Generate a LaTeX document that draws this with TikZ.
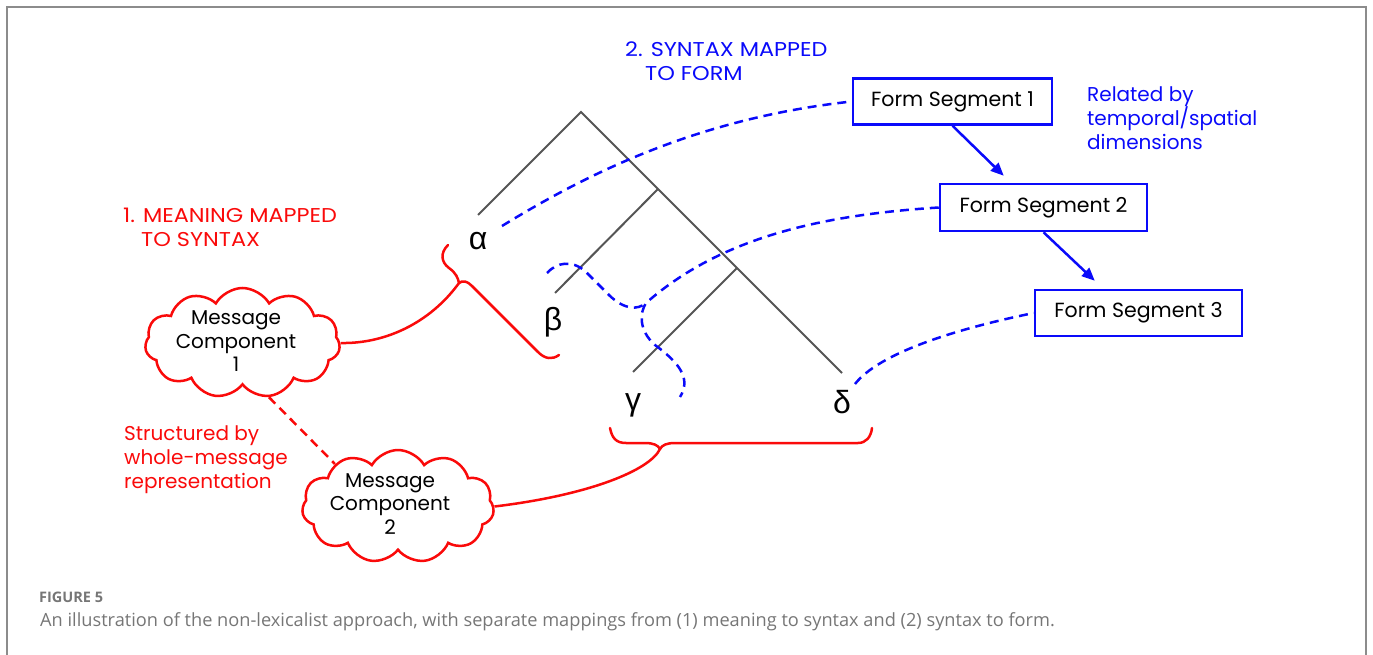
\documentclass[tikz,border=0pt]{standalone}
\usepackage{fontspec}
\setmainfont{Poppins}
\newfontfamily\widecaps[FakeStretch=1.12]{Poppins}
\newfontfamily\greekfont{Liberation Sans}
\newfontfamily\capfont{Open Sans}
\usetikzlibrary{shapes.symbols,arrows.meta,calc}

\definecolor{synblue}{RGB}{10,10,250}
\definecolor{mred}{RGB}{250,10,10}
\definecolor{treegray}{RGB}{85,85,85}
\definecolor{framegray}{RGB}{140,140,140}
\definecolor{capgray}{RGB}{118,118,118}

\tikzset{
  tree/.style={draw=treegray, line width=2pt},
  leaf/.style={font=\greekfont\fontsize{32}{32}\selectfont, inner sep=0pt},
  formbox/.style={draw=synblue, line width=2.5pt, inner sep=0pt,
    font=\fontsize{20.5}{24}\selectfont},
  maplink/.style={draw=synblue, line width=2.5pt, dash pattern=on 9pt off 6pt},
  orderarrow/.style={draw=synblue, line width=2.5pt,
    -{Triangle[length=13pt,width=11pt]}},
  thought/.style={cloud, cloud puffs=11, cloud puff arc=120, cloud ignores aspect,
    draw=mred, line width=2.5pt, inner sep=0pt, fill=white},
  cloudtext/.style={align=center, inner sep=0pt, font=\fontsize{20}{23.5}\selectfont},
  brace/.style={draw=mred, line width=2.5pt, line cap=round},
  redlink/.style={draw=mred, line width=2.5pt},
  reddash/.style={draw=mred, line width=2.5pt, dash pattern=on 9pt off 6pt},
  redlabel/.style={text=mred, align=left, inner sep=0pt, anchor=north west,
    font=\fontsize{20}{24}\selectfont},
  bluelabel/.style={text=synblue, align=left, inner sep=0pt, anchor=north west,
    font=\fontsize{20}{24}\selectfont},
}

\begin{document}
\begin{tikzpicture}[x=1pt,y=-1pt]
\useasboundingbox (0,0) rectangle (1373,655);

% panel frame (open at the bottom)
\draw[framegray, line width=2pt] (7,655) -- (7,7) -- (1366,7) -- (1366,655);

% syntax tree
\coordinate (root) at (581,112);
\coordinate (n2) at (658,189);
\coordinate (n3) at (737,268);
\coordinate (la) at (478,215);
\coordinate (lb) at (555,293);
\coordinate (lc) at (633,372);
\coordinate (ld) at (842,373);
\draw[tree] (la) -- (root) -- (ld);
\draw[tree] (lb) -- (n2);
\draw[tree] (lc) -- (n3);

\node[leaf] (alpha) at (478,241) {α};
\node[leaf] (beta) at (553,322) {β};
\node[leaf] (gamma) at (633,405) {γ};
\node[leaf] (delta) at (842,402) {δ};

% form segments
\node[formbox, minimum width=199pt, minimum height=46pt] (fs1) at (952.5,101.5) {Form Segment 1};
\node[formbox, minimum width=207pt, minimum height=47pt] (fs2) at (1043.5,207.5) {Form Segment 2};
\node[formbox, minimum width=207pt, minimum height=46pt] (fs3) at (1138.5,313) {Form Segment 3};

\draw[orderarrow] (fs1.south) -- ($(fs2.north west)+(65,-7)$);
\draw[orderarrow] (fs2.south) -- ($(fs3.north west)+(61,-8)$);

% syntax-to-form links
\draw[maplink] ([shift={(24,-15)}]alpha.center)
  .. controls (590,172) and (700,118) .. (fs1.west);

\coordinate (junc) at (646,303);
\coordinate (bstart) at (547,273);
\coordinate (gend) at (680,397);
\draw[maplink] (fs2.west) .. controls (820,215) and (720,238) .. (junc)
  .. controls (640,312) and (638,330) .. (655,345)
  .. controls (678,362) and (692,378) .. (gend);
\draw[maplink] (bstart) .. controls (557,262) and (572,260) .. (585,271)
  -- (610,296) .. controls (625,310) and (638,310) .. (junc);

\draw[maplink] ([shift={(13,-18)}]delta.center)
  .. controls (880,352) and (960,328) .. (fs3.west);

% message components
\node[thought, minimum width=195pt, minimum height=110pt] (mc1) at (242.5,343) {};
\node[cloudtext] (mc1t) at (236,341.5) {Message\\Component\\1};
\node[thought, minimum width=192pt, minimum height=113pt] (mc2) at (398,506.5) {};
\node[cloudtext] (mc2t) at (390,504) {Message\\Component\\2};

\draw[reddash] (mc1.-64) -- (mc2.146);

% meaning-to-syntax braces
\coordinate (b1top) at (448,245);
\coordinate (b1tip) at (459,283);
\coordinate (b1end) at (559,355);
\draw[brace] (b1top) .. controls (440,253) and (441,262) .. (449,268)
  .. controls (456,273) and (458,278) .. (b1tip);
\draw[brace] (b1tip) .. controls (463,280) and (467,281) .. (472,286)
  -- (538,352) .. controls (545,359) and (552,360) .. (b1end);

\coordinate (b2left) at (610,428);
\coordinate (b2tip) at (660,449);
\coordinate (b2right) at (872,428);
\draw[brace] (b2left) .. controls (612,438) and (616,443) .. (626,443)
  -- (645,443) .. controls (653,443) and (658,445) .. (b2tip);
\draw[brace] (b2tip) .. controls (662,445) and (667,443) .. (675,443)
  -- (858,443) .. controls (866,443) and (871,437) .. (b2right);

\draw[redlink] (mc1.east) .. controls (385,344) and (430,323) .. (b1tip);
\draw[redlink] (mc2.east) .. controls (590,495) and (650,470) .. (b2tip);

% labels
\node[bluelabel, font=\widecaps\fontsize{20}{24}\selectfont] (lab2) at (625,42)
  {2. SYNTAX MAPPED\\\hspace*{20pt}TO FORM};
\node[redlabel, font=\widecaps\fontsize{20}{24}\selectfont] (lab1) at (123,208)
  {1. MEANING MAPPED\\\hspace*{18pt}TO SYNTAX};
\node[bluelabel] (labrel) at (1087,87) {Related by\\temporal/spatial\\dimensions};
\node[redlabel] (labstr) at (124,425) {Structured by\\whole-message\\representation};

% caption
\node[anchor=base west, inner sep=0pt, text=capgray,
  font=\capfont\bfseries\fontsize{14.5}{16}\selectfont] (fig) at (39,602) {FIGURE 5};
\node[anchor=base west, inner sep=0pt, text=capgray,
  font=\capfont\fontsize{18.2}{20}\selectfont] (cap) at (40,626)
  {An illustration of the non-lexicalist approach, with separate mappings from (1) meaning to syntax and (2) syntax to form.};
\end{tikzpicture}
\end{document}
